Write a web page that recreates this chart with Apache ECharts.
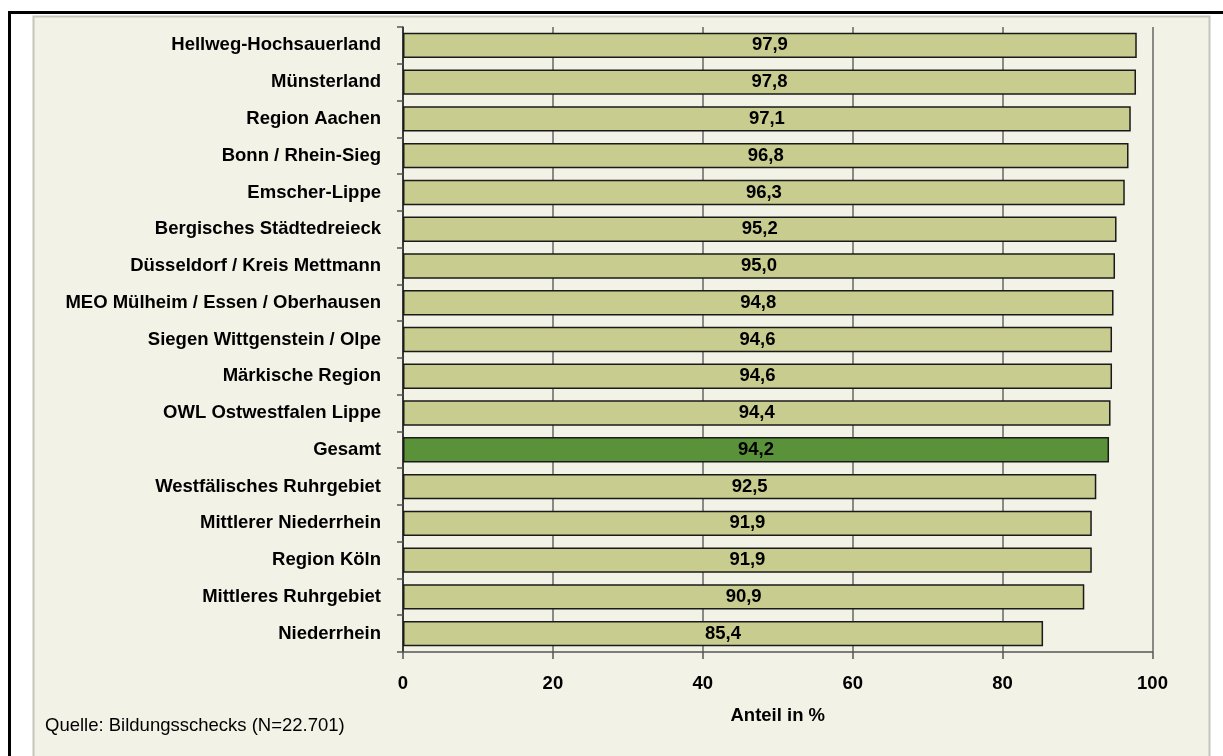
<!DOCTYPE html>
<html><head><meta charset="utf-8">
<script src="https://cdn.jsdelivr.net/npm/echarts@6/dist/echarts.min.js"></script>
<style>html,body{margin:0;padding:0;background:#fff}#c{width:1223px;height:756px}</style>
</head><body><div id="c"></div>
<script>
const categories = ["Hellweg-Hochsauerland","Münsterland","Region Aachen","Bonn / Rhein-Sieg","Emscher-Lippe","Bergisches Städtedreieck","Düsseldorf / Kreis Mettmann","MEO Mülheim / Essen / Oberhausen","Siegen Wittgenstein / Olpe","Märkische Region","OWL Ostwestfalen Lippe","Gesamt","Westfälisches Ruhrgebiet","Mittlerer Niederrhein","Region Köln","Mittleres Ruhrgebiet","Niederrhein"];
const values = [97.9,97.8,97.1,96.8,96.3,95.2,95.0,94.8,94.6,94.6,94.4,94.2,92.5,91.9,91.9,90.9,85.4];
const highlight = "Gesamt";
const xTicks = [0,20,40,60,80,100];

const chart = echarts.init(document.getElementById('c'), null, {renderer:'canvas'});
const font = "'Liberation Sans', Arial, sans-serif";
const fs = 18.5;
chart.setOption({
  animation:false,
  backgroundColor:'#ffffff',
  graphic:[
    {type:'rect', z:-10, shape:{x:9.5,y:12.5,width:1240,height:770}, style:{fill:'#ffffff',stroke:'#000',lineWidth:3}},
    {type:'rect', z:-9, shape:{x:33.5,y:16.5,width:1176,height:760}, style:{fill:'#f2f2e6',stroke:'#c4c6bc',lineWidth:2}},
    {type:'text', left:45, top:716, style:{text:'Quelle: Bildungsschecks (N=22.701)', font:fs+'px '+font, fill:'#000'}}
  ],
  grid:{left:403, right:70.5, top:27, bottom:104, containLabel:false},
  xAxis:{
    type:'value', min:xTicks[0], max:xTicks[xTicks.length-1], interval:20,
    name:'Anteil in %', nameLocation:'middle', nameGap:54,
    nameTextStyle:{fontFamily:font,fontWeight:'bold',fontSize:fs,color:'#000'},
    axisLine:{show:true,lineStyle:{color:'#555',width:1.5}},
    axisTick:{show:true,length:7,lineStyle:{color:'#555',width:1.5}},
    axisLabel:{margin:22,fontFamily:font,fontWeight:'bold',fontSize:fs,color:'#000'},
    splitLine:{show:true,lineStyle:{color:'#666',width:1.5}}
  },
  yAxis:{
    type:'category', data:categories, inverse:true,
    axisLine:{show:true,lineStyle:{color:'#222',width:1.5}},
    axisTick:{show:true,length:6,lineStyle:{color:'#555',width:1.5}},
    axisLabel:{margin:22,padding:[3,0,0,0],fontFamily:font,fontWeight:'bold',fontSize:fs,color:'#000'}
  },
  series:[{
    type:'bar',
    data:values.map((v,i)=>({value:v,itemStyle:{color: categories[i]===highlight?'#5a923a':'#c8cc8e'}})),
    barCategoryGap:'31%',
    itemStyle:{borderColor:'#1a1a1a',borderWidth:1.5},
    label:{show:true,position:'inside',padding:[3,0,0,0],formatter:p=>p.value.toFixed(1).replace('.',','),fontFamily:font,fontWeight:'bold',fontSize:fs,color:'#000'}
  }]
});
</script></body></html>
